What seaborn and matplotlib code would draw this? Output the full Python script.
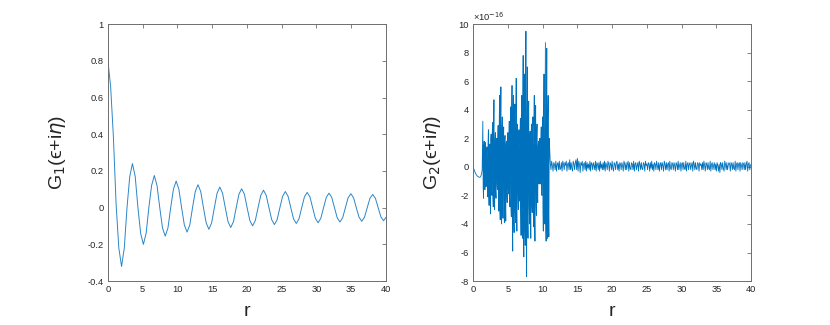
"""Two-panel Green's function plot (G1 damped oscillation, G2 numerical noise)."""
import numpy as np
import pandas as pd
import matplotlib
matplotlib.use("Agg")
import matplotlib.pyplot as plt
import seaborn as sns

# ---- data ----
# left panel: G1 sampled every pi/8 in r
g1_r = np.arange(103) * np.pi / 8
g1_vals = [0.80, 0.66, 0.39, 0.02, -0.22, -0.32, -0.22, 0.00, 0.17,
           0.240, 0.170, 0.0, -0.140, -0.200, -0.140, 0.0, 0.120,
           0.175, 0.120, 0.0, -0.110, -0.155, -0.110, 0.0, 0.100,
           0.145, 0.100, 0.0, -0.094, -0.133, -0.094, 0.0, 0.088,
           0.125, 0.088, 0.0, -0.083, -0.118, -0.083, 0.0, 0.079,
           0.112, 0.079, 0.0, -0.076, -0.108, -0.076, 0.0, 0.073,
           0.103, 0.073, 0.0, -0.070, -0.099, -0.070, 0.0, 0.067,
           0.095, 0.067, 0.0, -0.065, -0.092, -0.065, 0.0, 0.062,
           0.088, 0.062, 0.0, -0.061, -0.086, -0.061, 0.0, 0.059,
           0.083, 0.059, 0.0, -0.058, -0.082, -0.058, 0.0, 0.056,
           0.079, 0.056, 0.0, -0.055, -0.078, -0.055, 0.0, 0.054,
           0.076, 0.054, 0.0, -0.052, -0.074, -0.052, 0.0, 0.051,
           0.072, 0.051, 0.0, -0.050, -0.071, -0.050]

# right panel: G2 in units of 1e-16
g2_smooth = [0.0, -0.15, -0.28, -0.40, -0.50, -0.58, -0.64, -0.68, -0.71,
             -0.73, -0.72, -0.66, -0.52, -0.25]              # r = 0.0 .. 1.3, step 0.1
g2_burst = [                                                  # r = 1.40 .. 11.00, step 0.05
    3.2, -1.5, -2.2, 1.4, 1.8, -1.2, -1.6, 1.5, 1.7, -1.4,
    -1.2, 1.1, 1.4, -1.3, -2.1, 1.6, 2.6, -1.8, -2.7, 1.5,
    1.6, -1.9, -3.3, 2.0, 2.3, -1.6, -2.0, 2.2, 3.1, -2.1,
    -2.8, 2.5, 4.7, -2.4, -3.0, 1.9, 2.4, -1.7, -2.2, 1.4,
    2.0, -1.2, -1.6, 1.8, 2.9, -2.3, -3.1, 2.6, 5.0, -2.8,
    -3.7, 3.0, 5.6, -3.2, -4.0, 2.7, 3.5, -2.6, -3.6, 2.2,
    2.8, -2.4, -3.9, 1.9, 2.2, -2.2, -3.8, 1.6, 1.8, -1.7,
    -2.5, 1.5, 2.4, -1.4, -1.9, 2.0, 3.2, -2.2, -2.8, 2.6,
    4.2, -2.9, -3.5, 3.3, 5.7, -3.6, -5.9, 3.8, 5.0, -3.5,
    -4.6, 3.2, 4.4, -3.0, -3.9, 3.4, 6.2, -2.8, -4.5, 2.2,
    3.0, -1.9, -3.0, 1.6, 2.6, -1.8, -2.4, 2.4, 3.4, -3.0,
    -4.8, 3.6, 5.0, -3.9, -5.0, 4.2, 7.8, -4.5, -6.3, 4.6,
    6.5, -4.4, -5.5, 4.8, 9.5, -4.2, -7.7, 4.0, 7.0, -3.5,
    -5.0, 3.0, 4.6, -2.6, -4.0, 2.0, 2.5, -2.4, -5.0, 2.2,
    3.0, -2.5, -3.2, 2.6, 3.5, -2.8, -4.2, 3.0, 5.0, -3.2,
    -5.2, 2.9, 4.3, -2.6, -3.4, 2.2, 3.0, -1.8, -2.5, 1.4,
    1.8, -1.1, -1.2, 1.0, 2.0, -1.2, -1.0, 1.6, 2.8, -1.9,
    -2.0, 2.4, 3.5, -2.8, -4.5, 3.0, 6.5, -3.2, -4.0, 3.4,
    8.7, -3.5, -5.2, 3.6, 8.3, -3.8, -5.0, 3.4, 5.0, -3.0,
    -4.9, 2.0, 1.5]
g2_tail_e17 = [                                               # r = 11.1 .. 40.0, step 0.1, units of 1e-17
    3, -2, 4, 1, -3, 3, 2, -2, 4, -3, 2, 3, -2, 4, -2, -1, 3, -3, 4, 2,
    -2, 3, 1, 4, -3, 2, 3, -2, 5, -2, 3, -1, -3, 4, 2, -2, 3, 5, -2, 6,
    -3, 4, 2, -4, 3, 1, 4, -3, 2, 3, -2, 4, -3, 3, -1, 2, -2, 4, -3, 3,
    2, -2, 3, 1, -2, 4, -3, 3, 2, -2, 3, -3, 4, -1, 2, -2, 3, -2, 4, -3,
    3, 1, -2, 4, 2, -3, 3, 2, -2, 4, -1, -3, 3, 2, -2, 3, 4, -2, 2, -3,
    3, 2, -2, 3, 1, -3, 4, 2, -2, 3, -2, 2, 4, -3, 3, -1, -2, 3, 2, -2,
    4, -3, 2, 3, -2, 1, 3, -3, 4, 2, -2, 3, -1, -2, 3, 2, -3, 4, 1, 2,
    -2, 3, 2, -3, 3, -1, 4, -2, 2, -3, 3, 2, -2, 4, 1, -2, 3, -3, 2, 3,
    -2, 3, 1, -3, 4, 2, -2, 3, -2, 2, 3, -3, 4, -1, -2, 3, 2, -2, 3, 1,
    -3, 3, 2, -2, 4, -2, 1, 3, -3, 2, 3, -2, 3, -1, -2, 4, -3, 2, 3, -2,
    2, 3, -2, 1, 3, -3, 4, 2, -2, 3, -1, -2, 3, 2, -3, 3, 1, 2, -2, 3,
    -2, 4, 1, -3, 3, 2, -2, 3, -1, -2, 4, -3, 2, 3, -2, 1, 3, -2, 2, -3,
    3, 1, -3, 2, -4, 3, 2, -2, 3, -1, -3, 4, 2, -2, 3, -2, 1, 3, 2, -3,
    3, 2, -2, 3, -1, -2, 4, -3, 2, 3, -2, 2, 3, -3, 3, 1, -2, 3, 2, -2,
    3, -2, 2, 4, -3, 2, 3, -2, 1, 2]

xticks = [0, 5, 10, 15, 20, 25, 30, 35, 40]
y1_ticks = [-0.4, -0.2, 0, 0.2, 0.4, 0.6, 0.8, 1]
y1_labels = ["-0.4", "-0.2", "0", "0.2", "0.4", "0.6", "0.8", "1"]
y2_ticks = [-8, -6, -4, -2, 0, 2, 4, 6, 8, 10]

df1 = pd.DataFrame({"r": g1_r, "G1": g1_vals})
g2_r = np.concatenate([np.arange(14) * 0.1,
                       1.4 + np.arange(193) * 0.05,
                       11.1 + np.arange(290) * 0.1])
g2 = np.concatenate([g2_smooth, g2_burst, np.array(g2_tail_e17) / 10.0])
df2 = pd.DataFrame({"r": g2_r, "G2": g2})

# ---- style ----
sns.set_style("white")
plt.rcParams["font.family"] = ["Liberation Sans", "DejaVu Sans"]
plt.rcParams["mathtext.fontset"] = "dejavusans"
plt.rcParams["axes.unicode_minus"] = False
BLUE = "#0072BD"
FRAME = "#6e6e6e"
TXT = "#262626"

fig = plt.figure(figsize=(8.3, 3.25), dpi=100)
ax1 = fig.add_axes([0.130, 0.135, 0.335, 0.791])
ax2 = fig.add_axes([0.570, 0.135, 0.335, 0.791])

sns.lineplot(data=df1, x="r", y="G1", ax=ax1, color="#2a86c8", linewidth=0.7,
             estimator=None, sort=False)
sns.lineplot(data=df2, x="r", y="G2", ax=ax2, color=BLUE, linewidth=0.6,
             estimator=None, sort=False)

ax1.set_ylim(-0.4, 1); ax1.set_yticks(y1_ticks); ax1.set_yticklabels(y1_labels)
ax2.set_ylim(-8, 10); ax2.set_yticks(y2_ticks)
ax1.set_ylabel("G$_1$(\u03f5+i$\\eta$)", fontsize=14, color=TXT)
ax2.set_ylabel("G$_2$(\u03f5+i$\\eta$)", fontsize=14, color=TXT)
ax1.yaxis.set_label_coords(-0.145, 0.5)
ax2.yaxis.set_label_coords(-0.108, 0.5)
ax2.text(0.0, 1.005, "×10$^{-16}$", transform=ax2.transAxes, ha="left",
         va="bottom", fontsize=6.7, color=TXT)

for ax in (ax1, ax2):
    ax.set_xlim(0, 40); ax.set_xticks(xticks)
    ax.set_xlabel("r", fontsize=14, color=TXT)
    ax.xaxis.set_label_coords(0.5, -0.085)
    ax.tick_params(direction="in", length=3, width=0.6, top=True, right=True,
                   labelsize=6.7, labelcolor=TXT, color=FRAME, pad=3)
    for s in ax.spines.values():
        s.set_color(FRAME); s.set_linewidth(0.7)

fig.savefig("out.png", dpi=100)
